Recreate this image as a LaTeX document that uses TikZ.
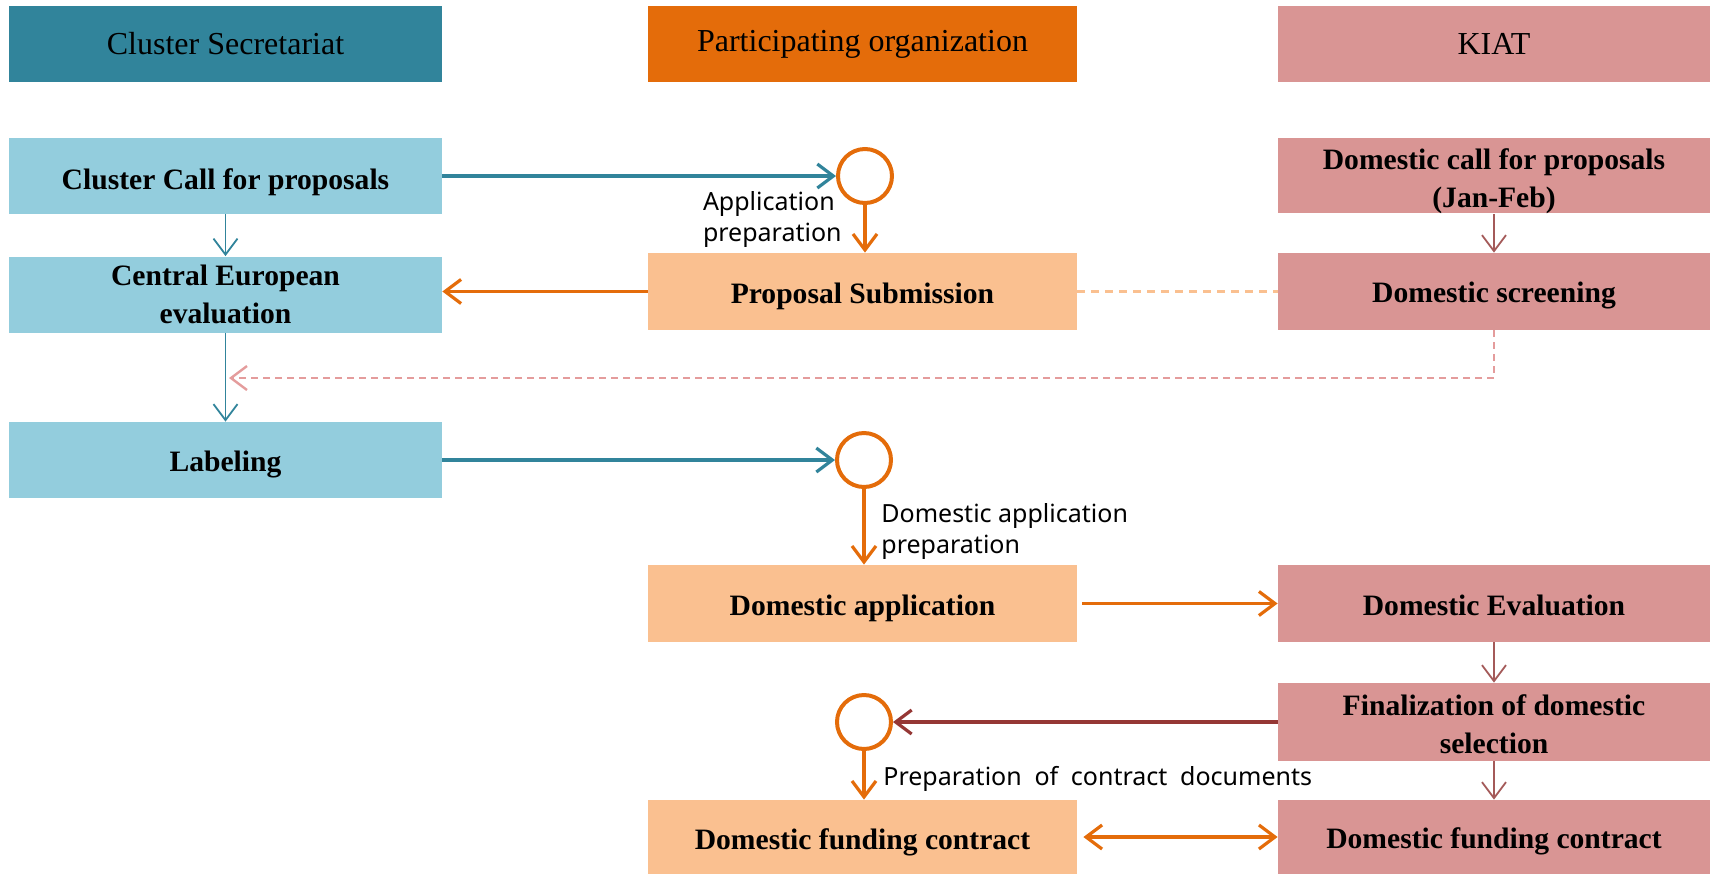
\documentclass[tikz,border=0pt]{standalone}
\usepackage{fontspec}
\setmainfont{Liberation Serif}
\newfontfamily\lblfont{Noto Sans}
\usetikzlibrary{arrows.meta}
\definecolor{hdrblue}{HTML}{31849B}
\definecolor{ltblue}{HTML}{93CDDD}
\definecolor{hdrorange}{HTML}{E46C0A}
\definecolor{ltorange}{HTML}{FAC090}
\definecolor{kpink}{HTML}{D99594}
\definecolor{dkred}{HTML}{953735}
\definecolor{kline}{HTML}{A45A59}
\definecolor{dashpink}{HTML}{E49C9C}
\newcommand{\myStrut}[1]{\rule{0pt}{#1}}
\begin{document}
\begin{tikzpicture}[x=0.5pt,y=-0.5pt,
  box/.style={rectangle, minimum width=215.5pt, minimum height=38pt, inner sep=0pt,
    align=center, text=black, font=\bfseries\fontsize{14.8}{19}\selectfont},
  hdr/.style={box, font=\fontsize{16}{19}\selectfont},
  bluebox/.style={box, fill=ltblue},
  orbox/.style={box, fill=ltorange},
  pkbox/.style={box, fill=kpink},
  circ/.style={circle, draw=hdrorange, line width=2pt, minimum size=27pt, inner sep=0pt},
  barb/.style={-{Straight Barb[length=8pt,width=12pt]}},
  thickblue/.style={barb, draw=hdrblue, line width=1.6pt},
  thinblue/.style={barb, draw=hdrblue, line width=0.9pt},
  orarrow/.style={barb, draw=hdrorange, line width=1.6pt},
  redarrow/.style={barb, draw=dkred, line width=1.6pt},
  kiatarrow/.style={barb, draw=kline, line width=0.9pt},
  lbl/.style={inner sep=0pt, align=left, text=black, font=\lblfont\fontsize{12.5}{15.5}\selectfont}
]
\useasboundingbox (0,0) rectangle (1710,874);

% headers
\node[hdr, fill=hdrblue, minimum width=216.5pt] (h1) at (225.5,44) {Cluster Secretariat};
\node[hdr, fill=hdrorange, minimum width=214.5pt] (h2) at (862.5,44) {Participating organization};
\node[hdr, fill=kpink, minimum width=216pt] (h3) at (1494,44) {KIAT};

% cluster secretariat column
\node[bluebox, minimum width=216.5pt] (cc) at (225.5,176) {\myStrut{17pt}Cluster Call for proposals};
\node[bluebox, minimum width=216.5pt] (ce) at (225.5,294.5) {Central European\\evaluation};
\node[bluebox, minimum width=216.5pt] (lab) at (225.5,460) {\myStrut{15pt}Labeling};

% participating organization column
\node[circ] (c1) at (865,176) {};
\node[orbox, minimum width=214.5pt, minimum height=38.5pt] (ps) at (862.5,291.5) {\myStrut{14.7pt}Proposal Submission};
\node[circ] (c2) at (864,460) {};
\node[orbox, minimum width=214.5pt, minimum height=38.5pt] (da) at (862.5,603.5) {\myStrut{15.3pt}Domestic application};
\node[circ] (c3) at (864,722) {};
\node[orbox, minimum width=214.5pt, minimum height=37pt] (fp) at (862.5,837) {\myStrut{16pt}Domestic funding contract};

% KIAT column
\node[pkbox, minimum width=216pt, minimum height=37.5pt] (dc) at (1494,175.5) {\myStrut{15.7pt}Domestic call for proposals\\(Jan-Feb)};
\node[pkbox, minimum width=216pt, minimum height=38.5pt] (ds) at (1494,291.5) {\myStrut{14.5pt}Domestic screening};
\node[pkbox, minimum width=216pt, minimum height=38.5pt] (de) at (1494,603.5) {\myStrut{12.5pt}Domestic Evaluation};
\node[pkbox, minimum width=216pt, minimum height=39pt] (fin) at (1494,722) {\myStrut{13.1pt}Finalization of domestic\\selection};
\node[pkbox, minimum width=216pt, minimum height=37pt] (fk) at (1494,837) {\myStrut{15pt}Domestic funding contract};

% labels
\node[lbl, anchor=east] (l1) at (842,219) {Application\\preparation};
\node[lbl, anchor=west] (l2) at (881,531) {Domestic application\\preparation};
\node[lbl, anchor=base west] (l3) at (883,785) {Preparation\hspace{0.25em} of\hspace{0.25em} contract\hspace{0.25em} documents};

% connectors
\draw[thickblue] (cc.east) -- (c1.west);
\draw[thinblue] (cc.south) -- (ce.north);
\draw[thinblue] (ce.south) -- (lab.north);
\draw[orarrow] (c1.south) -- (c1.south |- ps.north);
\draw[orarrow] (ps.west) -- (ps.west -| ce.east);
\draw[ltorange, line width=1.2pt, dash pattern=on 4pt off 3pt] (ps.east) -- (ds.west);
\coordinate (dend) at (229,378);
\draw[barb, dashpink, line width=1.2pt, dash pattern=on 3.5pt off 2.5pt] (ds.south) |- (dend);
\draw[kiatarrow] (dc.south) -- (ds.north);
\draw[thickblue] (lab.east) -- (c2.west);
\draw[orarrow] (c2.south) -- (c2.south |- da.north);
\draw[orarrow, shorten <=2.5pt] (da.east) -- (de.west);
\draw[kiatarrow] (de.south) -- (fin.north);
\draw[redarrow] (fin.west) -- (c3.east);
\draw[orarrow] (c3.south) -- (c3.south |- fp.north);
\draw[kiatarrow] (fin.south) -- (fk.north);
\draw[orarrow, {Straight Barb[length=8pt,width=12pt]}-{Straight Barb[length=8pt,width=12pt]}, shorten <=3pt] (fp.east) -- (fk.west);
\end{tikzpicture}
\end{document}
